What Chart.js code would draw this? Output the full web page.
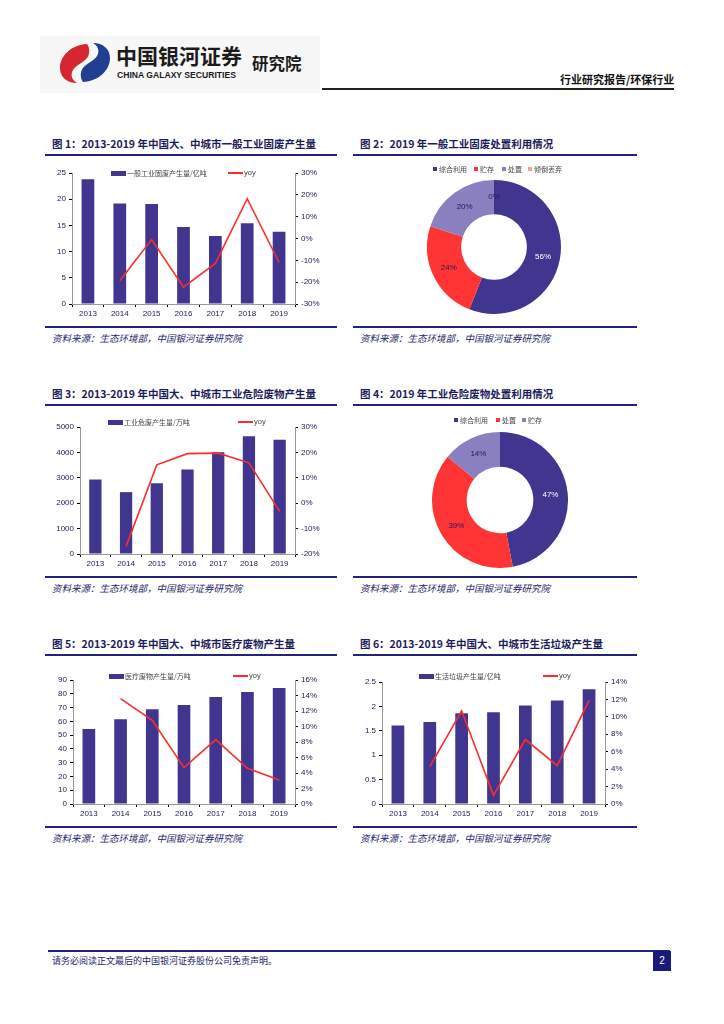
<!DOCTYPE html>
<html>
<head>
<meta charset="utf-8">
<script src="https://cdn.jsdelivr.net/npm/chart.js@4"></script>
<style>
  body { margin: 0; width: 724px; height: 1024px; position: relative; background: #fff; overflow: hidden;
         font-family: "Noto Sans CJK SC", "Liberation Sans", sans-serif; }
  .abs { position: absolute; white-space: nowrap; }
  .title { position: absolute; font-weight: 700; font-size: 10.5px; line-height: 14px; color: #1c1c5c; white-space: nowrap; }
  .rule { position: absolute; height: 2px; background: #23237a; }
  .src { position: absolute; font-style: italic; font-size: 9.5px; line-height: 14px; color: #1c1c6c; white-space: nowrap; }
  .box { position: absolute; }
  .lg { position: absolute; font-size: 7px; line-height: 10px; color: #444; white-space: nowrap; }
  .sw { position: absolute; }
</style>
</head>
<body>

<!-- 页眉 -->
<div class="abs" style="left:40px;top:36px;width:280px;height:57px;background:#f7f7f7;"></div>
<svg class="abs" style="left:57px;top:40px" width="56" height="46" viewBox="0 0 56 46">
  <path d="M30 4 C14 5 3 16 3 28 C3 37 10 43 20 43 C15 40 13 35 16 30 C19 25 26 23 30 18 C33 14 33 8 30 4 Z" fill="#d6262f"/>
  <path d="M26 42 C42 41 53 30 53 18 C53 9 46 3 36 3 C41 6 43 11 40 16 C37 21 30 23 26 28 C23 32 23 38 26 42 Z" fill="#1f3f8f"/>
</svg>
<div class="abs" style="left:116px;top:41px;font-size:21px;font-weight:700;color:#1b1b1b;letter-spacing:0px;line-height:28px;">中国银河证券</div>
<div class="abs" style="left:117px;top:69px;font-family:'Liberation Sans',Arial;font-size:8.6px;font-weight:700;color:#1b1b1b;line-height:12px;">CHINA GALAXY SECURITIES</div>
<div class="abs" style="left:252px;top:52px;font-size:16.5px;font-weight:700;color:#1b1b1b;line-height:22px;">研究院</div>
<div class="abs" style="left:560px;top:72px;width:113px;text-align:right;font-size:11px;font-weight:700;color:#111;line-height:15px;">行业研究报告/环保行业</div>
<div class="abs" style="left:322px;top:88px;width:352px;height:1.5px;background:#222;"></div>

<!-- 图 1 -->
<div class="title" style="left:52px;top:137px;">图 1：2013-2019 年中国大、中城市一般工业固废产生量</div>
<div class="rule" style="left:45px;top:154px;width:292px;"></div>
<div class="box" style="left:40px;top:160px;width:300px;height:165px;"><canvas id="c1"></canvas></div>
<div class="rule" style="left:45px;top:326px;width:292px;"></div>
<div class="src" style="left:52px;top:331px;">资料来源：生态环境部，中国银河证券研究院</div>

<!-- 图 2 -->
<div class="title" style="left:360px;top:137px;">图 2：2019 年一般工业固废处置利用情况</div>
<div class="rule" style="left:353px;top:154px;width:284px;"></div>
<div id="lg2"></div>
<div class="box" style="left:427px;top:180px;width:134px;height:134px;"><canvas id="c2"></canvas></div>
<div class="rule" style="left:353px;top:326px;width:284px;"></div>
<div class="src" style="left:360px;top:331px;">资料来源：生态环境部，中国银河证券研究院</div>

<!-- 图 3 -->
<div class="title" style="left:52px;top:387px;">图 3：2013-2019 年中国大、中城市工业危险废物产生量</div>
<div class="rule" style="left:45px;top:404px;width:292px;"></div>
<div class="box" style="left:40px;top:410px;width:300px;height:165px;"><canvas id="c3"></canvas></div>
<div class="rule" style="left:45px;top:576px;width:292px;"></div>
<div class="src" style="left:52px;top:581px;">资料来源：生态环境部，中国银河证券研究院</div>

<!-- 图 4 -->
<div class="title" style="left:360px;top:387px;">图 4：2019 年工业危险废物处置利用情况</div>
<div class="rule" style="left:353px;top:404px;width:284px;"></div>
<div id="lg4"></div>
<div class="box" style="left:432px;top:432px;width:136px;height:136px;"><canvas id="c4"></canvas></div>
<div class="rule" style="left:353px;top:576px;width:284px;"></div>
<div class="src" style="left:360px;top:581px;">资料来源：生态环境部，中国银河证券研究院</div>

<!-- 图 5 -->
<div class="title" style="left:52px;top:637px;">图 5：2013-2019 年中国大、中城市医疗废物产生量</div>
<div class="rule" style="left:45px;top:654px;width:292px;"></div>
<div class="box" style="left:40px;top:660px;width:300px;height:165px;"><canvas id="c5"></canvas></div>
<div class="rule" style="left:45px;top:826px;width:292px;"></div>
<div class="src" style="left:52px;top:831px;">资料来源：生态环境部，中国银河证券研究院</div>

<!-- 图 6 -->
<div class="title" style="left:360px;top:637px;">图 6：2013-2019 年中国大、中城市生活垃圾产生量</div>
<div class="rule" style="left:353px;top:654px;width:284px;"></div>
<div class="box" style="left:350px;top:660px;width:300px;height:165px;"><canvas id="c6"></canvas></div>
<div class="rule" style="left:353px;top:826px;width:284px;"></div>
<div class="src" style="left:360px;top:831px;">资料来源：生态环境部，中国银河证券研究院</div>

<!-- 页脚 -->
<div class="abs" style="left:48px;top:950px;width:622px;height:2px;background:#23237a;"></div>
<div class="abs" style="left:52px;top:954px;font-size:9px;line-height:14px;color:#1c1c6c;">请务必阅读正文最后的中国银河证券股份公司免责声明。</div>
<div class="abs" style="left:653px;top:951px;width:18px;height:20px;background:#1a1a7a;color:#fff;font-family:'Liberation Sans',Arial;font-size:10px;line-height:20px;text-align:center;">2</div>

<script>
// 数据
const years = ['2013', '2014', '2015', '2016', '2017', '2018', '2019'];

const solidWaste = [23.8, 19.2, 19.1, 14.7, 13.0, 15.4, 13.8];          // 亿吨
const solidWasteYoy = [null, -19.4, -0.5, -22.3, -11.4, 18.2, -11.0];    // %
const hazardWaste = [2930, 2436, 2790, 3330, 4010, 4640, 4500];          // 万吨
const hazardWasteYoy = [null, -17.0, 15.1, 19.5, 19.7, 15.9, -3.2];
const medicalWaste = [54.4, 61.5, 68.7, 71.9, 77.7, 81.3, 84.2];         // 万吨
const medicalWasteYoy = [null, 13.6, 10.8, 4.7, 8.3, 4.6, 3.1];
const domesticWaste = [1.61, 1.68, 1.86, 1.88, 2.02, 2.12, 2.35];        // 亿吨
const domesticWasteYoy = [null, 4.3, 10.7, 1.0, 7.4, 4.4, 11.9];

const solidUseLabels = ['综合利用', '贮存', '处置', '倾倒丢弃'];
const solidUseShares = [56, 24, 20, 0];
const hazardUseLabels = ['综合利用', '处置', '贮存'];
const hazardUseShares = [47, 39, 14];

// 坐标轴范围 [min, max, step]
const solidAxis = [0, 25, 5],      solidYoyAxis = [-30, 30, 10];
const hazardAxis = [0, 5000, 1000], hazardYoyAxis = [-20, 30, 10];
const medicalAxis = [0, 90, 10],   medicalYoyAxis = [0, 16, 2];
const domesticAxis = [0, 2.5, 0.5], domesticYoyAxis = [0, 14, 2];

const NAVY = '#40368f';
const RED = '#ff2b2b';
const LAVENDER = '#8a7fbf';
const PINK = '#ff9a9a';
const TICK = '#22225e';
const TICK_FONT = { family: '"Liberation Sans", Arial', size: 8 };

Chart.defaults.font.family = '"Liberation Sans", Arial, sans-serif';

function axisStyle(range, pos, width, suffix) {
    return {
        position: pos,
        min: range[0],
        max: range[1],
        grid: { drawOnChartArea: false, tickLength: 3, color: '#000' },
        border: { color: '#999', width: 1 },
        ticks: {
            stepSize: range[2],
            color: TICK,
            font: TICK_FONT,
            padding: 3,
            callback: v => v + (suffix || '')
        },
        afterFit: s => { s.width = width; }
    };
}

/**
 * 柱状 + 折线组合图
 */
function comboChart(id, bars, yoy, barLabel, leftAxis, rightAxis, fit) {
    return new Chart(document.getElementById(id), {
        data: {
            labels: years,
            datasets: [
                {
                    type: 'line', label: 'yoy', data: yoy, yAxisID: 'y1',
                    borderColor: RED, borderWidth: 1.6, pointRadius: 0, tension: 0, order: 0
                },
                {
                    type: 'bar', label: barLabel, data: bars, yAxisID: 'y',
                    backgroundColor: NAVY, barPercentage: 0.4, categoryPercentage: 1, order: 1
                }
            ]
        },
        options: {
            responsive: true,
            maintainAspectRatio: false,
            animation: false,
            layout: { padding: { top: fit.top, left: 0, right: 0, bottom: 0 } },
            plugins: { legend: { display: false }, tooltip: { enabled: false } },
            scales: {
                x: {
                    grid: { drawOnChartArea: false, tickLength: 3, color: '#000', offset: true },
                    border: { color: '#999' },
                    ticks: { color: TICK, font: TICK_FONT, padding: 2, maxRotation: 0 },
                    afterFit: s => { s.height = fit.xh; }
                },
                y: axisStyle(leftAxis, 'left', fit.lw, ''),
                y1: axisStyle(rightAxis, 'right', fit.rw, '%')
            }
        }
    });
}

// 环形图上的百分比标签
const ringLabels = {
    id: 'ringLabels',
    afterDatasetsDraw(chart, args, opts) {
        const ctx = chart.ctx;
        const meta = chart.getDatasetMeta(0);
        meta.data.forEach((arc, i) => {
            const p = arc.getProps(['x', 'y', 'startAngle', 'endAngle', 'innerRadius', 'outerRadius'], true);
            const a = (p.startAngle + p.endAngle) / 2;
            const r = (p.innerRadius + p.outerRadius) / 2;
            ctx.save();
            ctx.fillStyle = opts.colors[i];
            ctx.font = '8px "Liberation Sans", Arial';
            ctx.textAlign = 'center';
            ctx.textBaseline = 'middle';
            ctx.fillText(chart.data.datasets[0].data[i] + '%', p.x + Math.cos(a) * r, p.y + Math.sin(a) * r);
            ctx.restore();
        });
    }
};

function donutChart(id, labels, shares, colors, labelColors) {
    return new Chart(document.getElementById(id), {
        type: 'doughnut',
        data: {
            labels: labels,
            datasets: [{ data: shares, backgroundColor: colors, borderWidth: 0 }]
        },
        options: {
            responsive: true,
            maintainAspectRatio: false,
            animation: false,
            cutout: '49%',
            layout: { padding: 0 },
            plugins: {
                legend: { display: false },
                tooltip: { enabled: false },
                ringLabels: { colors: labelColors }
            }
        },
        plugins: [ringLabels]
    });
}

// HTML 图例
function barLegend(x, y, text, lineX) {
    const html =
        `<div class="sw" style="left:${x}px;top:${y - 2.5}px;width:15px;height:5px;background:${NAVY}"></div>` +
        `<div class="lg" style="left:${x + 16}px;top:${y - 5}px">${text}</div>` +
        `<div class="sw" style="left:${lineX}px;top:${y - 1}px;width:15px;height:2px;background:${RED}"></div>` +
        `<div class="lg" style="left:${lineX + 16}px;top:${y - 5}px;font-family:'Liberation Sans';font-size:7.5px">yoy</div>`;
    document.body.insertAdjacentHTML('beforeend', html);
}

function pieLegend(xs, y, labels, colors) {
    let html = '';
    labels.forEach((t, i) => {
        html += `<div class="sw" style="left:${xs[i]}px;top:${y - 2}px;width:4px;height:4px;background:${colors[i]}"></div>` +
                `<div class="lg" style="left:${xs[i] + 6}px;top:${y - 5}px">${t}</div>`;
    });
    document.body.insertAdjacentHTML('beforeend', html);
}

comboChart('c1', solidWaste, solidWasteYoy, '一般工业固废产生量/亿吨', solidAxis, solidYoyAxis,
    { top: 13, xh: 21, lw: 32, rw: 45 });
comboChart('c3', hazardWaste, hazardWasteYoy, '工业危废产生量/万吨', hazardAxis, hazardYoyAxis,
    { top: 17, xh: 21, lw: 40, rw: 45 });
comboChart('c5', medicalWaste, medicalWasteYoy, '医疗废物产生量/万吨', medicalAxis, medicalYoyAxis,
    { top: 20, xh: 21, lw: 33, rw: 45 });
comboChart('c6', domesticWaste, domesticWasteYoy, '生活垃圾产生量/亿吨', domesticAxis, domesticYoyAxis,
    { top: 22, xh: 21, lw: 32, rw: 45 });

donutChart('c2', solidUseLabels, solidUseShares, [NAVY, '#ff3434', LAVENDER, PINK],
    ['#ffffff', '#20205e', '#20205e', '#20205e']);
donutChart('c4', hazardUseLabels, hazardUseShares, [NAVY, '#ff3434', LAVENDER],
    ['#ffffff', '#20205e', '#20205e']);

barLegend(111, 173, '一般工业固废产生量/亿吨', 228);
barLegend(108, 422, '工业危废产生量/万吨', 238);
barLegend(109, 676, '医疗废物产生量/万吨', 233);
barLegend(419, 676, '生活垃圾产生量/亿吨', 543);

pieLegend([433, 474, 502, 528], 169, solidUseLabels, [NAVY, '#ff3434', LAVENDER, PINK]);
pieLegend([454, 496, 522], 420, hazardUseLabels, [NAVY, '#ff3434', LAVENDER]);
</script>
</body>
</html>
